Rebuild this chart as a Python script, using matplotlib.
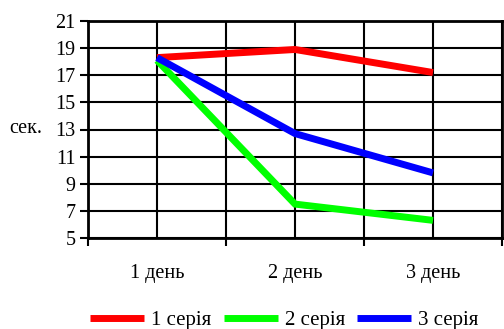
import matplotlib
matplotlib.use("Agg")
import matplotlib.pyplot as plt
from matplotlib.ticker import FixedLocator

plt.rcParams['font.family'] = ['Liberation Serif', 'DejaVu Serif']

days = ["1 день", "2 день", "3 день"]
series_names = ["1 серія", "2 серія", "3 серія"]
series_1 = [18.3, 18.9, 17.2]
series_2 = [18.1, 7.5, 6.3]
series_3 = [18.3, 12.7, 9.8]
colors = ["#ff0000", "#00ff00", "#0000ff"]
y_ticks = [5, 7, 9, 11, 13, 15, 17, 19, 21]

W, H = 504, 329
fig = plt.figure(figsize=(W / 100, H / 100), dpi=100)
ax = fig.add_axes([88 / W, (H - 238) / H, (502 - 88) / W, (238 - 21) / H])

x = [1, 2, 3]
handles = []
for vals, name, c in zip([series_1, series_2, series_3], series_names, colors):
    h, = ax.plot(x, vals, color=c, lw=5, solid_capstyle='butt',
                 solid_joinstyle='miter', label=name, zorder=3)
    handles.append(h)

ax.set_xlim(0.5, 3.5)
ax.set_ylim(5, 21)
ax.set_yticks(y_ticks)
ax.set_yticklabels([str(v) for v in y_ticks])

# category labels centred, ticks at category boundaries
ax.set_xticks(x)
ax.set_xticklabels(days)
ax.tick_params(axis='x', which='major', length=0, pad=19, labelsize=14.5)
ax.xaxis.set_minor_locator(FixedLocator([0.5, 1.5, 2.5, 3.5]))
ax.tick_params(axis='x', which='minor', length=6, width=1.5, direction='out')
ax.tick_params(axis='y', length=6, width=1.5, direction='out', labelsize=14.5, pad=3)

# grid every half category and every 2 seconds
for gx in [0.5, 1, 1.5, 2, 2.5, 3, 3.5]:
    ax.axvline(gx, color='black', lw=1.5, zorder=1)
for gy in y_ticks:
    ax.axhline(gy, color='black', lw=1.5, zorder=1)

for s in ax.spines.values():
    s.set_linewidth(2)
    s.set_color('black')

fig.text(9 / W, (H - 128) / H, "сек.", fontsize=14.5, va='center', ha='left')

fig.legend(handles=handles, loc='center', ncol=3, frameon=False,
           bbox_to_anchor=(0.564, (H - 320) / H), fontsize=15,
           handlelength=2.6, handletextpad=0.33, columnspacing=0.58)

fig.savefig("out.png", dpi=100)
